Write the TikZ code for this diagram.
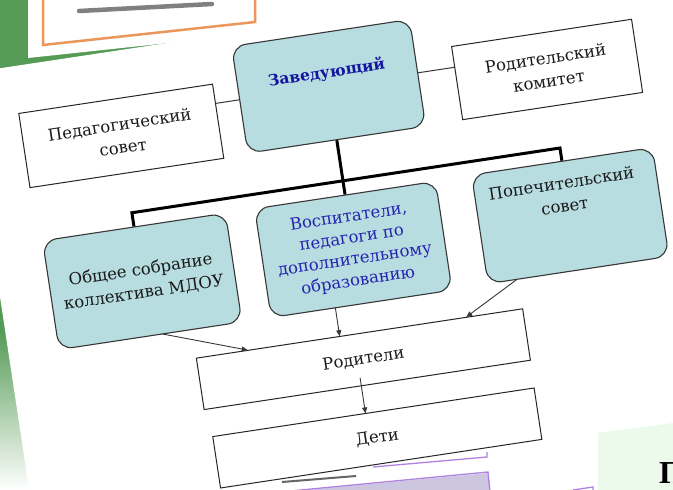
\documentclass[tikz,border=0pt]{standalone}
\usepackage{fontspec}
\setmainfont{DejaVu Serif}
\newfontfamily\timesfont{Liberation Serif}
\usetikzlibrary{arrows.meta}
\definecolor{boxblue}{RGB}{184,221,225}
\definecolor{lineg}{RGB}{55,55,55}
\definecolor{txtblue}{RGB}{35,35,175}
\definecolor{zavblue}{RGB}{20,20,160}
\definecolor{bggreen}{RGB}{85,155,85}
\definecolor{orng}{RGB}{235,150,90}
\definecolor{purp}{RGB}{175,130,225}
\definecolor{lav}{RGB}{205,198,225}
\definecolor{pale}{RGB}{236,250,236}
\begin{document}
\begin{tikzpicture}[x=1pt,y=-1pt,
  every node/.style={font=\fontsize{16.5}{23}\selectfont},
  rbox/.style={draw=lineg, line width=1.1pt, fill=boxblue, rounded corners=14pt, inner sep=0pt},
  sbox/.style={draw=black!85, line width=1pt, fill=white, inner sep=0pt},
  lbl/.style={align=center, text=black!90},
  conn/.style={draw=lineg, line width=1pt},
  tree/.style={draw=black, line width=3pt},
  arr/.style={draw=lineg, line width=0.9pt, -{Triangle[length=6pt,width=5pt]}}]
\useasboundingbox (0,0) rectangle (673,490);
\clip (0,0) rectangle (673,490);
\fill[white] (0,0) rectangle (673,490);
\fill[bggreen] (0,0) rectangle (262,330);
\shade[top color=bggreen, bottom color=white] (0,330) rectangle (262,490);

\begin{scope}[rotate around={8.6:(336,245)}, transform shape]
\fill[white] (-4,20) rectangle (1100,1100);
\node[rbox, minimum width=180pt, minimum height=108pt] (zav) at (352.5,87) {};
\node[font=\bfseries\fontsize{15.5}{20}\selectfont, text=zavblue] (zavt) at (352.5,73.5) {Заведующий};
\node[sbox, minimum width=196pt, minimum height=75pt, lbl] (ped) at (140,105) {Педагогический\\совет};
\node[sbox, minimum width=182pt, minimum height=74pt, lbl] (rk) at (571,103) {Родительский\\комитет};
\node[rbox, minimum width=185pt, minimum height=110pt, lbl] (obs) at (139,252) {Общее собрание\\коллектива МДОУ};
\node[rbox, minimum width=183pt, minimum height=110pt, align=center, text=txtblue, font=\fontsize{16.5}{21.5}\selectfont] (vos) at (352.5,252) {Воспитатели,\\педагоги по\\дополнительному\\образованию};
\node[rbox, minimum width=183pt, minimum height=110pt] (pop) at (572,251) {};
\node[lbl] (popt) at (568,229) {Попечительский\\совет};
\node[sbox, minimum width=330pt, minimum height=52pt, lbl] (rod) at (346,362) {Родители};
\node[sbox, minimum width=325pt, minimum height=52pt, lbl] (det) at (348,442) {Дети};

\coordinate (pedR) at (238,87);
\coordinate (rkL) at (480,87);
\draw[conn] (pedR) -- (zav.west);
\draw[conn] (zav.east) -- (rkL);
\coordinate (bL) at (139,182.6);
\coordinate (bR) at (572,182.6);
\draw[tree] (obs.north) -- (bL) -- (bR) -- (pop.north);
\draw[tree] (zav.south) -- (vos.north);

\coordinate (a1s) at (151,307);
\coordinate (a1e) at (233,335.75);
\coordinate (a2s) at (326,307);
\coordinate (a2e) at (326,335.75);
\coordinate (a3s) at (510,306);
\coordinate (a3e) at (454,335.75);
\coordinate (a4s) at (340,380);
\coordinate (a4e) at (340,416);
\draw[arr] (a1s) -- (a1e);
\draw[arr] (a2s) -- (a2e);
\draw[arr] (a3s) -- (a3e);
\draw[arr] (a4s) -- (a4e);
\end{scope}

% background slide fragment, top left
\fill[white] (28,0) -- (262,0) -- (262,33) -- (28,58) -- cycle;
\draw[orng, line width=2.5pt] (43,-5) -- (43,45) -- (255,22) -- (255,-5);
\draw[black!50, line width=4.5pt, line cap=round] (79,11) -- (212,4);

% bottom fragments
\draw[purp, line width=1.3pt] (373,467) -- (487,457) -- (487,452);
\fill[lav] (285,492) -- (488,473) -- (490,492) -- cycle;
\draw[purp, line width=1.3pt] (280,492) -- (488,472) -- (490,492);
\draw[black!60, line width=2pt] (282,482) -- (356,476);
\draw[purp, line width=1.3pt] (573,490) -- (593,487) -- (593,492);
\fill[pale] (598,433) -- (673,423) -- (673,490) -- (598,490) -- cycle;
\node[font=\timesfont\bfseries\fontsize{32}{32}\selectfont, anchor=base west, inner sep=0pt] (pl) at (659,483) {П};
\end{tikzpicture}
\end{document}
